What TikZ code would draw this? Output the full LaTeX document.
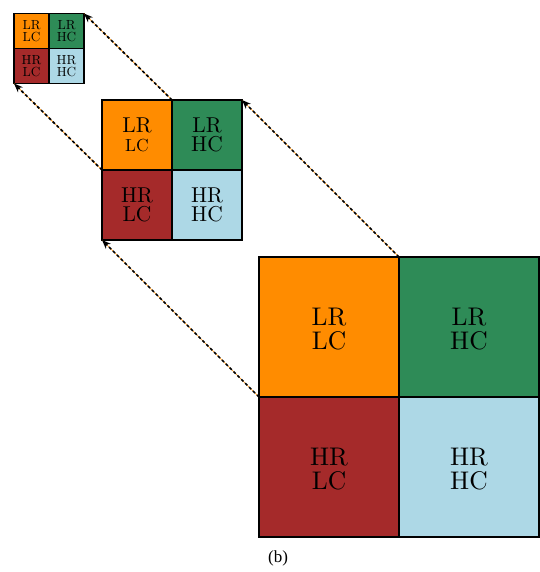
\documentclass[tikz,border=0pt]{standalone}
\usepackage{fontspec}
\newfontfamily\captionfont{Liberation Serif}
\newfontfamily\cellfont{lmroman10-regular.otf}
\usetikzlibrary{arrows.meta}
\definecolor{cellOrange}{HTML}{FF8C00}
\definecolor{cellGreen}{HTML}{2E8B57}
\definecolor{cellRed}{HTML}{A52A2A}
\definecolor{cellBlue}{HTML}{ADD8E6}
\tikzset{
  cell/.style={draw=black, line width=2pt, rectangle, inner sep=0pt, outer sep=0pt,
    align=center, text=black},
  bigcell/.style={cell, minimum width=140pt, minimum height=140pt,
    font=\cellfont\fontsize{25.5}{24}\selectfont, text height=46pt},
  midcell/.style={cell, minimum width=70pt, minimum height=70pt,
    font=\cellfont\fontsize{21.5}{19}\selectfont},
  smallcell/.style={cell, minimum width=35pt, minimum height=35pt, line width=1.6pt,
    font=\cellfont\fontsize{13.2}{11.4}\selectfont},
  link/.style={draw=cellOrange, line width=0.6pt,
    postaction={draw=black, line width=1.7pt, dash pattern=on 3pt off 2.5pt,
      -{Stealth[length=9pt,width=7pt]}}}
}
\begin{document}
\begin{tikzpicture}[x=1pt,y=1pt]
\useasboundingbox (0,0) rectangle (539,-572);

% large block
\node[bigcell, fill=cellOrange] (L11) at (329,-327) {LR\\LC};
\node[bigcell, fill=cellGreen]  (L12) at (469,-327) {LR\\HC};
\node[bigcell, fill=cellRed]    (L21) at (329,-467) {HR\\LC};
\node[bigcell, fill=cellBlue]   (L22) at (469,-467) {HR\\HC};

% middle block
\node[midcell, fill=cellOrange] (M11) at (137,-135) {LR\\{\fontsize{17.5}{19}\selectfont LC}};
\node[midcell, fill=cellGreen]  (M12) at (207,-135) {LR\\HC};
\node[midcell, fill=cellRed]    (M21) at (137,-205) {HR\\LC};
\node[midcell, fill=cellBlue]   (M22) at (207,-205) {HR\\HC};

% small block
\node[smallcell, fill=cellOrange] (S11) at (31.5,-31) {LR\\LC};
\node[smallcell, fill=cellGreen]  (S12) at (66.5,-31) {LR\\HC};
\node[smallcell, fill=cellRed]    (S21) at (31.5,-66) {HR\\LC};
\node[smallcell, fill=cellBlue]   (S22) at (66.5,-66) {HR\\HC};

% projections between the blocks
\draw[link] (L11.north east) -- (M12.north east);
\draw[link] (L11.south west) -- (M21.south west);
\draw[link] (M11.north east) -- (S12.north east);
\draw[link] (M11.south west) -- (S21.south west);

\node[font=\captionfont\fontsize{17}{19}\selectfont] (cap) at (278,-558) {(b)};
\end{tikzpicture}
\end{document}
